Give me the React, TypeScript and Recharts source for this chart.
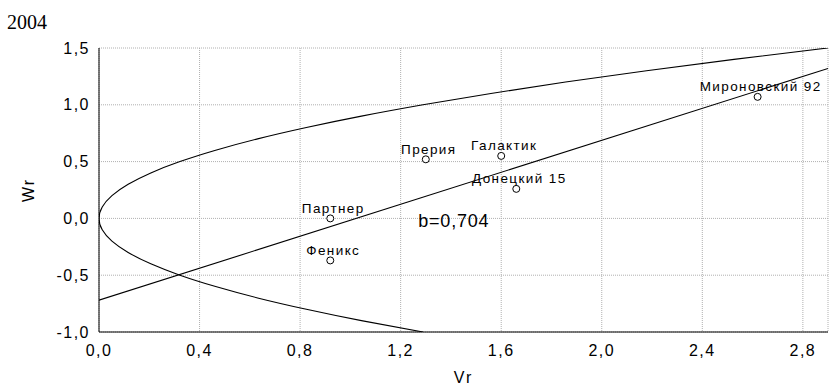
import { ComposedChart, Line, Scatter, XAxis, YAxis, CartesianGrid, ReferenceDot } from "recharts";

const xMajor = [0, 0.4, 0.8, 1.2, 1.6, 2.0, 2.4, 2.8];
const xMinor = [0, 0.1, 0.2, 0.3, 0.4, 0.5, 0.6, 0.7, 0.8, 0.9, 1.0, 1.1, 1.2, 1.3, 1.4, 1.5, 1.6, 1.7, 1.8, 1.9, 2.0, 2.1, 2.2, 2.3, 2.4, 2.5, 2.6, 2.7, 2.8, 2.9];
const yMajor = [-1.0, -0.5, 0, 0.5, 1.0, 1.5];
const yMinor = [-1.0, -0.9, -0.8, -0.7, -0.6, -0.5, -0.4, -0.3, -0.2, -0.1, 0, 0.1, 0.2, 0.3, 0.4, 0.5, 0.6, 0.7, 0.8, 0.9, 1.0, 1.1, 1.2, 1.3, 1.4, 1.5];

const varieties = ["Партнер", "Феникс", "Прерия", "Галактик", "Донецкий 15", "Мироновский 92"];
const vrValues = [0.92, 0.92, 1.30, 1.60, 1.66, 2.62];
const wrValues = [0.0, -0.37, 0.52, 0.55, 0.26, 1.07];

// limiting parabola Wr^2 = Vp * Vr
const parabolaWr = [-1.0, -0.9, -0.8, -0.7, -0.6, -0.5, -0.4, -0.3, -0.2, -0.1, 0, 0.1, 0.2, 0.3, 0.4, 0.5, 0.6, 0.7, 0.8, 0.9, 1.0, 1.1, 1.2, 1.3, 1.4, 1.5];
const parabolaVr = [1.289, 1.044, 0.825, 0.631, 0.464, 0.322, 0.206, 0.116, 0.0515, 0.0129, 0, 0.0129, 0.0515, 0.116, 0.206, 0.322, 0.464, 0.631, 0.825, 1.044, 1.289, 1.559, 1.856, 2.178, 2.526, 2.899];

// regression line, b = 0,704
const regVr = [0, 2.9];
const regWr = [-0.72, 1.32];

const points = varieties.map((name, i) => ({ name, x: vrValues[i], y: wrValues[i] }));
const parabola = parabolaVr.map((x, i) => ({ x, y: parabolaWr[i] }));
const regression = regVr.map((x, i) => ({ x, y: regWr[i] }));

const fmt = (v: number) => v.toFixed(1).replace(".", ",");
const font = "'Liberation Sans', Arial, sans-serif";
const tickStyle = { fill: "#000", fontSize: 16, fontFamily: font, letterSpacing: 1.5 };

const PointShape = (p: any) => (
  <g>
    <circle cx={p.cx} cy={p.cy} r={3.5} fill="#fff" stroke="#000" strokeWidth={1} />
    <text x={p.cx + 3} y={p.cy - 5.5} textAnchor="middle" fontSize={13.5} fontFamily={font} letterSpacing={1.4} fill="#000">
      {p.payload.name}
    </text>
  </g>
);

export default function App() {
  return (
    <div style={{ position: "absolute", left: 0, top: 0, width: 829, height: 385, background: "#fff" }}>
      <div style={{ position: "absolute", left: 7, top: 12, fontFamily: "'Liberation Serif', 'Times New Roman', serif", fontSize: 20, lineHeight: "20px", color: "#000" }}>
        2004
      </div>
      <ComposedChart width={829} height={385} margin={{ top: 48, right: 1, bottom: 0, left: 0 }}>
        <CartesianGrid stroke="#b0b0b0" strokeDasharray="1 1" />
        <XAxis
          type="number" dataKey="x" domain={[0, 2.9]} ticks={xMajor} tickFormatter={fmt} allowDataOverflow
          height={53} tickLine={false} tickSize={0} tickMargin={13} tick={tickStyle}
          axisLine={{ stroke: "#000" }}
          label={{ value: "Vr", position: "insideBottom", offset: 2, style: { fill: "#000", fontSize: 16, fontFamily: font, letterSpacing: 2 } }}
        />
        <XAxis xAxisId="xb" type="number" orientation="bottom" mirror height={0} domain={[0, 2.9]} ticks={xMinor} allowDataOverflow
          tick={false} tickSize={3} axisLine={false} tickLine={{ stroke: "#000" }} />
        <XAxis xAxisId="xt" type="number" orientation="top" mirror height={0} domain={[0, 2.9]} ticks={xMinor} allowDataOverflow
          tick={false} tickSize={3} axisLine={{ stroke: "#000" }} tickLine={{ stroke: "#000" }} />
        <YAxis
          type="number" dataKey="y" domain={[-1, 1.5]} ticks={yMajor} tickFormatter={fmt} allowDataOverflow
          width={99} tickLine={false} tickSize={0} tickMargin={9} tick={tickStyle}
          axisLine={{ stroke: "#000" }}
          label={{ value: "Wr", angle: -90, position: "insideLeft", offset: 28, style: { textAnchor: "middle", fill: "#000", fontSize: 16, fontFamily: font, letterSpacing: 2 } }}
        />
        <YAxis yAxisId="yl" type="number" orientation="left" mirror width={0} domain={[-1, 1.5]} ticks={yMinor} allowDataOverflow
          tick={false} tickSize={3} axisLine={false} tickLine={{ stroke: "#000" }} />
        <YAxis yAxisId="yr" type="number" orientation="right" mirror width={0} domain={[-1, 1.5]} ticks={yMinor} allowDataOverflow
          tick={false} tickSize={3} axisLine={{ stroke: "#000" }} tickLine={{ stroke: "#000" }} />
        <Line data={parabola} dataKey="y" type="natural" stroke="#000" strokeWidth={1.1} dot={false} activeDot={false} isAnimationActive={false} />
        <Line data={regression} dataKey="y" type="linear" stroke="#000" strokeWidth={1.1} dot={false} activeDot={false} isAnimationActive={false} />
        <Scatter data={points} dataKey="y" shape={PointShape} isAnimationActive={false} />
        <ReferenceDot x={1.27} y={-0.08} r={0} ifOverflow="visible"
          shape={(p: any) => (
            <text x={p.cx} y={p.cy} fontSize={18} fontFamily={font} letterSpacing={0.8} fill="#000">b=0,704</text>
          )} />
      </ComposedChart>
    </div>
  );
}
